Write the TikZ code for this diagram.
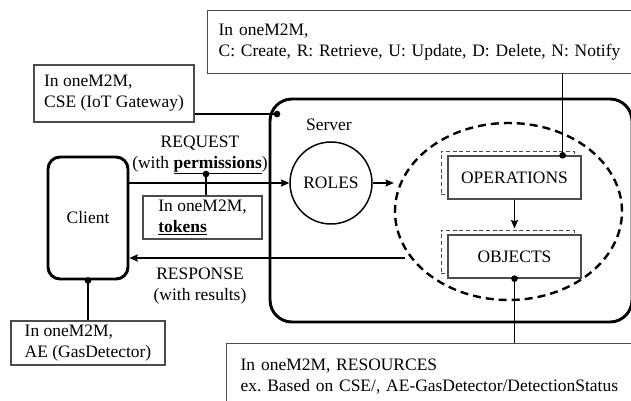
\documentclass[tikz,border=0pt]{standalone}
\usepackage{fontspec}
\setmainfont{Liberation Serif}
\usetikzlibrary{arrows.meta,positioning,calc,shapes.geometric,shadows}
\newcommand{\notefont}{\fontsize{13.1}{15.8}\selectfont}
\frenchspacing

\begin{document}
\begin{tikzpicture}[x=0.75pt, y=-0.75pt,
  note/.style={draw=black!70, line width=1pt, align=left, font=\notefont,
               inner ysep=1pt},
  plain/.style={align=center, font=\notefont, inner sep=1pt},
  bigbox/.style={draw, line width=2.2pt, font=\notefont},
  stack/.style={draw=black!70, fill=white, line width=1pt, font=\notefont,
                minimum width=99.75pt, minimum height=32.25pt,
                copy shadow={shadow xshift=-5.25pt, shadow yshift=3.75pt,
                             dashed, dash pattern=on 3pt off 2pt, line width=0.7pt}},
  arr/.style={-{Stealth[length=2.2mm, width=1.9mm, inset=0.3mm]}, line width=0.8pt},
  link/.style={line width=0.8pt},
  dot/.style={circle, fill, inner sep=0pt, minimum size=5pt}
]
\useasboundingbox (0,0) rectangle (631,400);

\node[bigbox, rounded corners=16.5pt, minimum width=271.5pt, minimum height=167.25pt] (server) at (451,210.5) {};
\node[plain] (srvlabel) at (329,125) {Server};
\node[bigbox, rounded corners=9pt, minimum width=60pt, minimum height=91.5pt] (client) at (88,218) {Client};
\node[draw, circle, line width=1.1pt, minimum size=61.5pt, font=\notefont] (roles) at (331,183) {ROLES};
\node[draw, ellipse, line width=1.8pt, dash pattern=on 6pt off 3.75pt,
      minimum width=170.25pt, minimum height=132.75pt] (scope) at (508.5,211.5) {};
\node[stack] (ops) at (514.5,177.5) {OPERATIONS};
\node[stack] (objs) at (514.5,256.5) {OBJECTS};

\node[note, anchor=north west, text width=322.5pt, inner xsep=8.25pt, minimum height=47.25pt] (topnote) at (207,10)
  {In oneM2M,\\C: Create, R: Retrieve, U: Update, D: Delete, N: Notify};
\node[note, minimum width=120pt, minimum height=42.75pt] (csenote) at (114,93.5) {In oneM2M,\\CSE (IoT Gateway)};
\node[note, minimum width=89.25pt, minimum height=32.25pt] (tokens) at (202.5,217.5) {In oneM2M,\\\textbf{\underline{tokens}}};
\node[note, minimum width=115.5pt, minimum height=33pt] (aenote) at (88,343) {In oneM2M,\\AE (GasDetector)};
\node[note, anchor=north west, text width=322.5pt, inner xsep=10.5pt, minimum height=48.75pt] (resnote) at (226,343)
  {In oneM2M, RESOURCES\\ex. Based on CSE/, AE-GasDetector/DetectionStatus};

\node[plain] (reqlabel) at (200,155) {REQUEST\\(with \textbf{\underline{permissions}})};
\node[plain] (resplabel) at (200,286.5) {RESPONSE\\(with results)};

\coordinate (srvdot) at (277,114);
\coordinate (permdot) at (206,174);
\coordinate (opsdot) at ($(ops.north east)+(-19,0)$);
\coordinate (respstart) at (405,258);

\draw[arr] (client.east |- roles.west) -- (roles.west);
\draw[arr] (roles.east) -- (roles.east -| scope.west);
\draw[arr] (ops.south) -- ($(objs.north)+(0,-6)$);
\draw[arr] (respstart) -- (respstart -| client.east);

\draw[link] (srvdot) -- (srvdot -| csenote.east);
\draw[link] (permdot) -- (permdot |- tokens.north);
\draw[link] (opsdot) -- (opsdot |- topnote.south);
\draw[link] (objs.south) -- (objs.south |- resnote.north);
\draw[link] (client.south) -- (aenote.north);

\node[dot] at (srvdot) {};
\node[dot] at (permdot) {};
\node[dot] at (opsdot) {};
\node[dot] at (objs.south) {};
\node[dot] at (client.south) {};
\end{tikzpicture}
\end{document}
